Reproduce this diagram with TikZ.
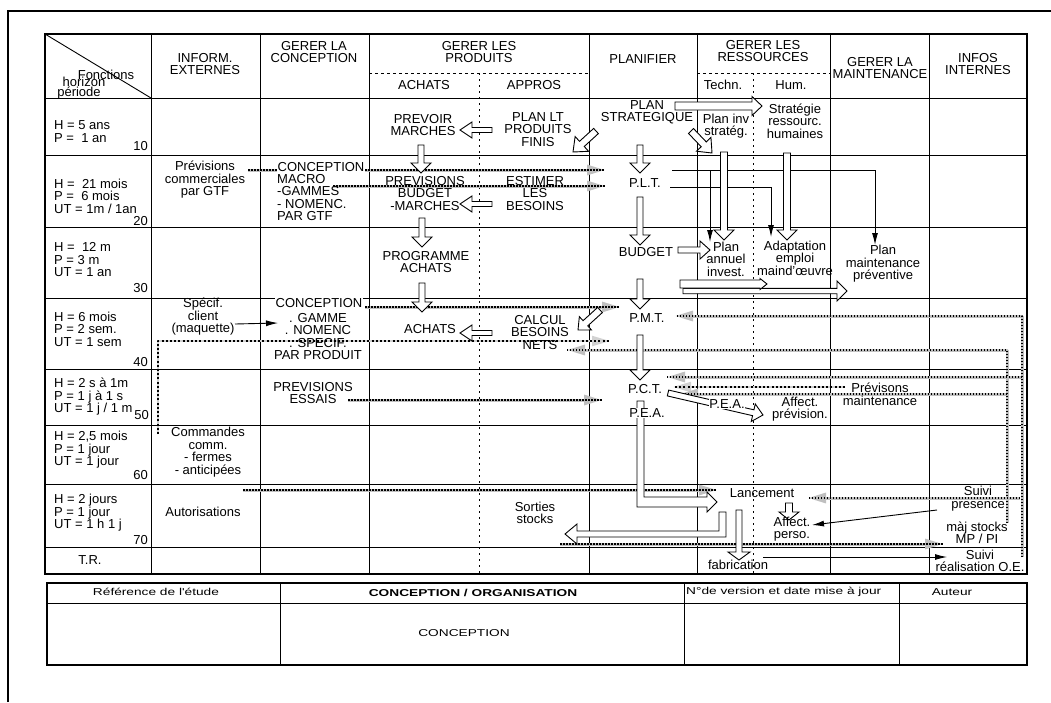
\documentclass[tikz,border=0pt]{standalone}
\usepackage{fontspec}
\setmainfont{Liberation Sans}
\newfontfamily\titlefont[FakeStretch=1.37]{Liberation Sans}
\usetikzlibrary{arrows.meta,calc}

\newcommand\blkarrow[5]{%
  \path let \p1=#4, \p2=#5 in
    \pgfextra{\pgfmathsetmacro\bktmpa{atan2(\y2-\y1,\x2-\x1)}%
      \pgfmathsetmacro\bktmpb{veclen(\x2-\x1,\y2-\y1)}%
      \xdef\bkang{\bktmpa}\xdef\bklen{\bktmpb}\xdef\bkx{\x1}\xdef\bky{\y1}};
  \begin{scope}[shift={(\bkx,\bky)},rotate=\bkang]
    \draw[blkst] (0pt,-#1pt) -- ({\bklen pt-#2pt},-#1pt) -- ({\bklen pt-#2pt},-#3pt)
      -- (\bklen pt,0pt) -- ({\bklen pt-#2pt},#3pt) -- ({\bklen pt-#2pt},#1pt) -- (0pt,#1pt) -- cycle;
  \end{scope}}

\tikzset{
 gline/.style={line width=0.9pt},
 txt/.style={inner sep=0pt, align=center, font=\fontsize{13}{12.5}\selectfont},
 ltxt/.style={txt, align=left, anchor=west},
 num/.style={inner sep=0pt, anchor=east, font=\fontsize{13}{12.5}\selectfont},
 wbg/.style={fill=white, inner sep=0.5pt},
 ttl/.style={inner sep=0pt, font=\titlefont\fontsize{10}{12}\selectfont},
 blkst/.style={draw=black, fill=white, line width=0.9pt},
 tarrow/.style={line width=0.9pt, -{Latex[length=12pt,width=6pt]}},
 flux/.style={draw=gray!50, line width=3pt, line join=round, -{Triangle[length=18pt,width=10pt]},
   postaction={draw=black, line width=1.9pt, dash pattern=on 1.5pt off 1.5pt, -}},
 fluxd/.style={draw=gray!35, line width=2.2pt, line join=round, -{Triangle[length=18pt,width=10pt]},
   postaction={draw=black, line width=2.2pt, dash pattern=on 2pt off 2.2pt, -}},
 dotv/.style={line width=0.9pt, dash pattern=on 2pt off 4pt},
 dashh/.style={line width=0.9pt, dash pattern=on 3pt off 3pt},
}

\begin{document}
\begin{tikzpicture}[x=1pt,y=-1pt]
\useasboundingbox (0,0) rectangle (1051,702);
% page frame
\draw[line width=1.6pt] (8,702) -- (8,11) -- (1051,11);

% grid
\draw[line width=1.3pt] (45,34) rectangle (1027,574);
\foreach \yy in {98,155,227,298,369,425,484,547} \draw[gline] (45,\yy) -- (1027,\yy);
\foreach \xx in {151,260,369,589,697,830,929} \draw[gline] (\xx,34) -- (\xx,574);
\draw[dashh] (369,73) -- (589,73);
\draw[dashh] (697,73) -- (830,73);
\draw[dotv] (479,73) -- (479,574);
\draw[dotv] (753,73) -- (753,574);
\draw[gline] (45,34) -- (151,98);

% flux lines
\draw[flux] (248,170) -- (605,170);
\draw[flux] (333,186) -- (605,186);
\draw[flux] (365,307) -- (620,307);
\draw[fluxd] (158,434) -- (158,341) -- (610,341);
\draw[flux] (1022,557) -- (1022,316) -- (675,316);
\draw[flux] (1007,523) -- (1007,350) -- (567,350);
\draw[flux] (1022,377) -- (667,377);
\draw[fluxd] (845,387) -- (673,387);
\draw[flux] (1007,394) -- (680,394);
\draw[flux] (348,400) -- (602,400);
\draw[flux] (243,490) -- (717,490);
\draw[flux] (1020,498) -- (808,498);
\draw[flux] (560,544) -- (943,544);

% thin arrows
\draw[tarrow] (672,170) -- (875,170) -- (875,245);
\draw[tarrow] (670,187) -- (771,187) -- (771,237);
\draw[tarrow] (710,170) -- (710,242);
\draw[tarrow] (235,324) -- (278,323);
\draw[tarrow] (937,510) -- (812,525);
\draw[tarrow] (763,557) -- (947,557);

% block arrows
\blkarrow{2.5}{12}{8}{(492,130)}{(460,130)}
\blkarrow{3.5}{12}{10}{(596,131)}{(573,152)}
\blkarrow{3}{10}{10}{(421,145)}{(421,173)}
\blkarrow{2.5}{12}{8}{(492,204)}{(460,204)}
\blkarrow{3}{10}{10}{(422,218)}{(422,247)}
\blkarrow{3}{10}{10}{(422,283)}{(422,312)}
\blkarrow{2.5}{12}{8}{(492,333)}{(460,333)}
\blkarrow{3.5}{10}{9}{(600,310)}{(578,330)}
\blkarrow{4}{10}{9.5}{(675,106)}{(762,106)}
\blkarrow{3.5}{12}{10}{(691,131)}{(712,153)}
\blkarrow{3}{10}{10}{(640,145)}{(640,173)}
\blkarrow{3}{10}{10}{(640,197)}{(640,245)}
\blkarrow{3}{10}{9}{(678,250)}{(710,250)}
\blkarrow{3}{10}{10}{(640,279)}{(640,309)}
\blkarrow{3}{10}{10}{(640,335)}{(640,380)}
\blkarrow{3.5}{10}{10}{(724,152)}{(724,240)}
\blkarrow{3.5}{10}{10}{(787,153)}{(787,240)}
\blkarrow{2.7}{10}{10}{(683,291)}{(847,291)}
\blkarrow{4}{7}{5.5}{(680,284)}{(767,284)}
\blkarrow{3}{10}{9}{(668,393)}{(763,415)}
\blkarrow{3.5}{8}{10}{(789,503)}{(789,520)}
\blkarrow{3}{8}{11}{(739,510)}{(739,560)}
% L-shaped block arrows
\draw[blkst] (637,401) -- (637,507) -- (707,507) -- (707,512) -- (717,502) -- (707,492)
  -- (707,497) -- (644,497) -- (644,401) -- cycle;
\draw[blkst] (726,512) -- (726,537) -- (577,537) -- (577,544) -- (565,534) -- (577,524)
  -- (577,531) -- (719,531) -- (719,512) -- cycle;

% header texts
\node[txt, anchor=base] (hfon) at (106,79) {Fonctions};
\node[txt, anchor=base] (hhor) at (84,86) {horizon};
\node[txt, anchor=base] (hper) at (79,96) {période};
\node[txt] (hinf) at (205,64) {INFORM.\\EXTERNES};
\node[txt] (hcon) at (314,52) {GERER LA\\CONCEPTION};
\node[txt] (hpro) at (479,52) {GERER LES\\PRODUITS};
\node[txt] (hach) at (424,85) {ACHATS};
\node[txt] (happ) at (534,85) {APPROS};
\node[txt] (hpla) at (643,59) {PLANIFIER};
\node[txt] (hres) at (763,51) {GERER LES\\RESSOURCES};
\node[txt] (htec) at (723,85) {Techn.};
\node[txt] (hhum) at (791,85) {Hum.};
\node[txt] (hmai) at (880,68) {GERER LA\\MAINTENANCE};
\node[txt] (hint) at (978,64) {INFOS\\INTERNES};

% row labels
\node[ltxt] (r10) at (54,131.5) {H = 5 ans\\P =\ \ 1 an};
\node[num] (n10) at (148,146) {10};
\node[ltxt] (r20) at (54,196) {H =\ \ 21 mois\\P =\ \ 6 mois\\UT = 1m / 1an};
\node[num] (n20) at (148,221) {20};
\node[ltxt] (r30) at (54,260) {H =\ \ 12 m\\P = 3 m\\UT = 1 an};
\node[num] (n30) at (148,288) {30};
\node[ltxt] (r40) at (54,329) {H = 6 mois\\P = 2 sem.\\UT = 1 sem};
\node[num] (n40) at (148,362) {40};
\node[ltxt] (r50) at (54,397) {H = 2 s à 1m\\P = 1 j à 1 s\\UT = 1 j / 1 m};
\node[num] (n50) at (149,415) {50};
\node[ltxt] (r60) at (54,450) {H = 2,5 mois\\P = 1 jour\\UT = 1 jour};
\node[num] (n60) at (148,475) {60};
\node[ltxt] (r70) at (54,513) {H = 2 jours\\P = 1 jour\\UT = 1 h 1 j};
\node[num] (n70) at (148,540) {70};
\node[txt] (rtr) at (90,560) {T.R.};

% informations externes
\node[txt] (prevcom) at (205,180) {Prévisions\\commerciales\\par GTF};
\node[txt] (specif) at (203,317) {Spécif.\\client\\(maquette)};
\node[txt] (cmdes) at (208,452) {Commandes\\comm.\\- fermes\\- anticipées};
\node[txt] (autor) at (203,512) {Autorisations};

% gerer la conception
\node[txt, wbg, anchor=west] (conc1) at (277,167) {CONCEPTION};
\node[ltxt] (conc1b) at (277,197.5) {MACRO\\-GAMMES\\- NOMENC.\\PAR GTF};
\node[txt, wbg] (conc2) at (319,303.5) {CONCEPTION};
\node[txt] (conc2b) at (318,336.5) {. GAMME\\. NOMENC\\. SPECIF.\\PAR PRODUIT};
\node[txt] (prevess) at (313,393) {PREVISIONS\\ESSAIS};

% gerer les produits
\node[txt] (prevmar) at (423,125) {PREVOIR\\MARCHES};
\node[txt] (planlt) at (538,129.5) {PLAN LT\\PRODUITS\\FINIS};
\node[txt] (prevbud) at (425,193.5) {PREVISIONS\\BUDGET\\-MARCHES};
\node[txt] (estim) at (535,193.5) {ESTIMER\\LES\\BESOINS};
\node[txt] (progach) at (426,262) {PROGRAMME\\ACHATS};
\node[txt] (achats) at (430,329) {ACHATS};
\node[txt] (calcul) at (540,332.5) {CALCUL\\BESOINS\\NETS};
\node[txt] (sorties) at (535,513) {Sorties\\stocks};

% planifier
\node[txt] (planstr) at (647,112.5) {PLAN\\STRATEGIQUE};
\node[txt] (plt) at (645,183) {P.L.T.};
\node[txt] (budget) at (646,252) {BUDGET};
\node[txt] (pmt) at (647,318) {P.M.T.};
\node[txt] (pct) at (645,389) {P.C.T.};
\node[txt, wbg] (pea) at (647,413) {P.E.A.};

% ressources
\node[txt] (planinv) at (726,126) {Plan inv\\stratég.};
\node[txt] (stratrh) at (795,121) {Stratégie\\ressourc.\\humaines};
\node[txt] (planann) at (726,259) {Plan\\annuel\\invest.};
\node[txt] (adapt) at (795,258) {Adaptation\\emploi\\maind'œuvre};
\node[txt, wbg] (pea2) at (727,404) {P.E.A.};
\node[txt] (affprev) at (800,409) {Affect.\\prévision.};
\node[txt] (lanc) at (762,493) {Lancement};
\node[txt] (affpers) at (792,529) {Affect.\\perso.};
\node[txt] (fabr) at (738,565) {fabrication};

% maintenance
\node[txt] (planmai) at (883,264) {Plan\\maintenance\\préventive};
\node[txt] (prevmai) at (880,394.5) {Prévisons\\maintenance};

% infos internes
\node[txt] (suivpres) at (978,498.5) {Suivi\\presence};
\node[txt] (majst) at (977,533) {màj stocks\\MP / PI};
\node[txt] (suivreal) at (980,561) {Suivi\\réalisation O.E.};

% title block
\draw[line width=1.2pt] (47,583) rectangle (1027,665);
\draw[gline] (47,603) -- (1027,603);
\foreach \xx in {280,684,899} \draw[gline] (\xx,583) -- (\xx,665);
\node[ttl] (tref) at (156,592) {Référence de l'étude};
\node[ttl, font=\titlefont\fontsize{10}{12}\selectfont\bfseries] (tconc) at (473,593) {CONCEPTION / ORGANISATION};
\node[ttl, anchor=west] (tver) at (686,592) {N°de version et date mise à jour};
\node[ttl] (taut) at (952,592) {Auteur};
\node[ttl] (tconc2) at (464,633) {CONCEPTION};
\end{tikzpicture}
\end{document}
